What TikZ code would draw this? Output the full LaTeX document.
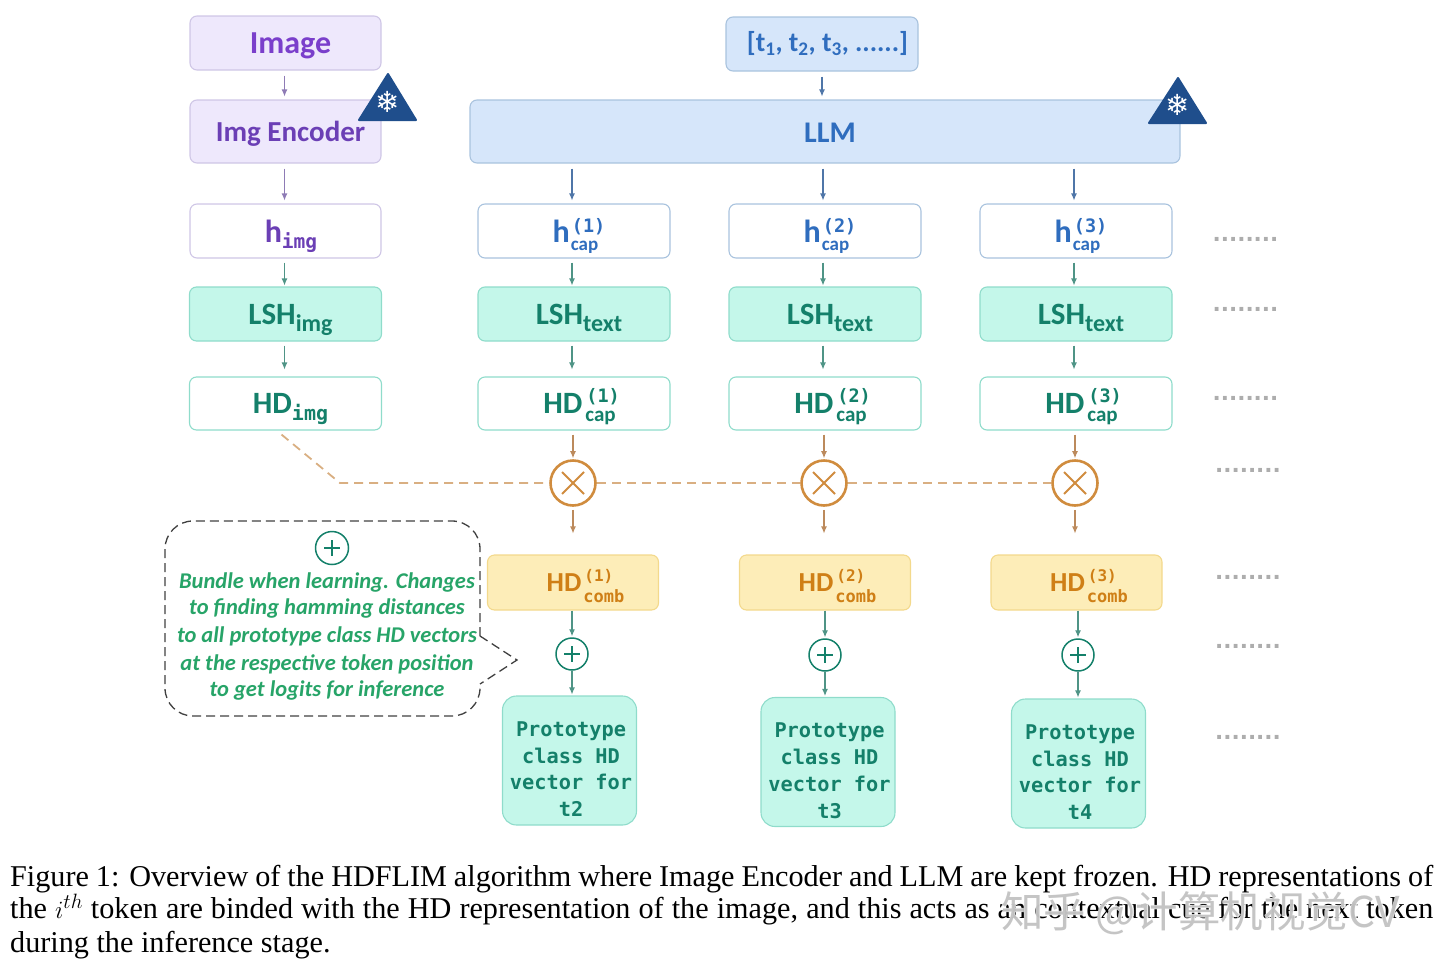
\documentclass[tikz,border=0pt]{standalone}
\usepackage{fontspec}
\setmainfont{Liberation Serif}
\newfontfamily\carl{Carlito}
\newfontfamily\mon{DejaVu Sans Mono}
\newfontfamily\djv{DejaVu Sans}
\newfontfamily\cjk{Noto Sans CJK SC}
\newfontfamily\cjkhalo[FakeBold=3]{Noto Sans CJK SC}
\usetikzlibrary{arrows.meta,calc}
\newcommand{\fz}[1]{\fontsize{#1}{#1}\selectfont}
% sup / sub stack: sup raised, sub lowered, neither changes the line box
\newcommand{\ssb}[4]{\rlap{\raisebox{#3}[0pt][0pt]{\hspace{1pt}#1}}\raisebox{#4}[0pt][0pt]{#2}}
\newcommand{\low}[2]{\raisebox{#1}[0pt][0pt]{#2}}
\newcommand{\nodepth}[1]{\raisebox{0pt}[\height][0pt]{#1}}
\definecolor{purp}{HTML}{7A3FCB}
\definecolor{purpd}{HTML}{6B3FB5}
\definecolor{purpfill}{HTML}{EEE8FC}
\definecolor{purpline}{HTML}{CFC6E6}
\definecolor{purparr}{HTML}{8E7BB5}
\definecolor{blu}{HTML}{2F6DBE}
\definecolor{bluarr}{HTML}{4F76A8}
\definecolor{blufill}{HTML}{D6E6FA}
\definecolor{bluline}{HTML}{A9C3DE}
\definecolor{teal1}{HTML}{14806A}
\definecolor{tealarr}{HTML}{4F9486}
\definecolor{tealfill}{HTML}{C4F7EA}
\definecolor{tealline}{HTML}{8FDCCB}
\definecolor{orng}{HTML}{D08C3E}
\definecolor{orngarr}{HTML}{BC8A5C}
\definecolor{orngdash}{HTML}{D9AF82}
\definecolor{orngd}{HTML}{CF7F16}
\definecolor{yelfill}{HTML}{FDEDB8}
\definecolor{yelline}{HTML}{F3D98C}
\definecolor{grn}{HTML}{27A468}
\definecolor{navy}{HTML}{1F4E8C}
\tikzset{
  x=1pt,y=-1pt,
  boxb/.style={draw,rounded corners=7pt,line width=1.1pt,inner sep=0pt,align=center},
  purpbox/.style={boxb,draw=purpline,fill=purpfill,text=purp,font=\carl\bfseries\fz{32}},
  purpwhite/.style={boxb,draw=purpline,fill=white,text=purpd,minimum width=191pt,minimum height=54pt},
  blubox/.style={boxb,draw=bluline,fill=blufill,text=blu,font=\carl\bfseries\fz{30}},
  bluwhite/.style={boxb,draw=bluline,fill=white,text=blu,minimum width=192pt,minimum height=54pt},
  lshbox/.style={boxb,draw=tealline,fill=tealfill,text=teal1,minimum width=192pt,minimum height=54pt},
  hdbox/.style={boxb,draw=tealline,fill=white,text=teal1,minimum width=192pt,minimum height=53pt},
  combbox/.style={boxb,draw=yelline,fill=yelfill,text=orngd,minimum width=171pt,minimum height=55pt},
  protobox/.style={boxb,rounded corners=14pt,draw=tealline,fill=tealfill,text=teal1,minimum width=134pt,minimum height=129pt,font=\mon\bfseries\fz{20.3},align=center},
  xcirc/.style={circle,draw=orng,line width=2.6pt,fill=white,minimum size=45pt,inner sep=0pt},
  pcirc/.style={circle,draw=teal1,line width=1.5pt,fill=white,minimum size=32pt,inner sep=0pt},
  arr/.style={-{Latex[length=7pt,width=6pt]},line width=1.1pt,shorten <=5pt,shorten >=3pt},
  dotrow/.style={draw=none,inner sep=0pt,anchor=base,text=black!32,font=\djv\bfseries\fz{21.6}},
  frozen/.style={draw=navy,fill=navy,line width=2pt,line join=round},
  dashor/.style={draw=orngdash,dash pattern=on 9pt off 6pt,line width=1.8pt},
  dashk/.style={draw=black!75,line width=1.3pt,dash pattern=on 9pt off 5pt},
}
\begin{document}
\begin{tikzpicture}
\useasboundingbox (0,0) rectangle (1440,969);
% left column
\node[purpbox,minimum width=191pt,minimum height=54pt] (image) at (285.5,43) {\hspace*{10pt}\nodepth{Image}};
\node[purpbox,minimum width=191pt,minimum height=63pt,font=\carl\bfseries\fz{29},text=purpd] (enc) at (285.5,131.5) {\hspace*{10pt}\nodepth{Img Encoder}};
\node[purpwhite,font=\carl\bfseries\fz{32}] (himg) at (285.5,231) {\hspace*{11pt}h\low{-6pt}{\mon\bfseries\fz{19.5}img}};
\node[lshbox,font=\carl\bfseries\fz{31}] (lshimg) at (285.5,314) {\hspace*{10pt}LSH\low{-7pt}{\carl\bfseries\fz{24}img}};
\node[hdbox,font=\carl\bfseries\fz{31}] (hdimg) at (285.5,403.5) {\hspace*{10pt}HD\low{-7pt}{\mon\bfseries\fz{20}img}};
% top
\node[blubox,minimum width=192pt,minimum height=54pt,font=\carl\bfseries\fz{27.5}] (tok) at (822,44) {\hspace*{11pt}[t\textsubscript{1}, t\textsubscript{2}, t\textsubscript{3}, ......]};
\node[blubox,minimum width=710pt,minimum height=63pt] (llm) at (825,131.5) {\hspace*{10pt}\raisebox{-1.5pt}[\height][\depth]{LLM}};
% frozen marks
\draw[frozen] (388,74) -- (416,120) -- (359,120) -- cycle;
\node[text=white,font=\djv\fz{29},inner sep=0pt] (snowa) at (387.5,102) {❄};
\draw[frozen] (1178,78) -- (1206,123) -- (1149,123) -- cycle;
\node[text=white,font=\djv\fz{29},inner sep=0pt] (snowb) at (1177.5,105) {❄};
% three token columns
\foreach \n/\cx/\ccx/\cbx/\pcx/\ppx/\py/\pcy/\tk in {1/574/573/573/572/569.5/760.5/654/t2,2/825/824/825/825/828/762/655/t3,3/1076/1075/1076.5/1078/1078.5/763.5/655/t4}{
  \node[bluwhite,font=\carl\bfseries\fz{32}] (h\n) at (\cx,231) {\hspace*{3pt}h\hspace{1pt}\ssb{\mon\bfseries\fz{18.5}(\n)}{\carl\bfseries\fz{19}cap}{10pt}{-8pt}};
  \node[lshbox,font=\carl\bfseries\fz{31}] (lsh\n) at (\cx,314) {\hspace*{10pt}LSH\low{-7pt}{\carl\bfseries\fz{24}text}};
  \node[hdbox,font=\carl\bfseries\fz{31}] (hd\n) at (\cx,403.5) {\hspace*{11pt}HD\hspace{3pt}\ssb{\mon\bfseries\fz{18.5}(\n)}{\carl\bfseries\fz{21}cap}{11pt}{-8pt}};
  \node[xcirc] (x\n) at (\ccx,483) {};
  \draw[orng,line width=2pt] ($(x\n)+(-11,-11)$) -- ($(x\n)+(11,11)$) ($(x\n)+(-11,11)$) -- ($(x\n)+(11,-11)$);
  \node[combbox,font=\carl\bfseries\fz{27.5}] (c\n) at (\cbx,582.5) {\hspace*{25pt}HD\hspace{2pt}\ssb{\mon\bfseries\fz{16}(\n)}{\mon\bfseries\fz{17}comb}{10pt}{-11pt}};
  \node[pcirc] (p\n) at (\pcx,\pcy) {};
  \draw[teal1,line width=1.3pt] ($(p\n)+(-8,0)$) -- ($(p\n)+(8,0)$) ($(p\n)+(0,-8)$) -- ($(p\n)+(0,8)$);
  \node[protobox] (pr\n) at (\ppx,\py) {\hspace*{3pt}\rule{0pt}{32pt}Prototype\\[6.5pt]\hspace*{3pt}class HD\\[6.5pt]\hspace*{3pt}vector for\\[6.5pt]\hspace*{3pt}\tk};
  \draw[arr,tealarr,shorten <=4pt,shorten >=1pt] ([xshift=-2pt]h\n.south) -- ([xshift=-2pt]lsh\n.north);
  \draw[arr,tealarr,shorten <=4pt,shorten >=7pt] ([xshift=-2pt]lsh\n.south) -- ([xshift=-2pt]hd\n.north);
  \draw[arr,orngarr,shorten <=4pt,shorten >=1pt] ([xshift=-1pt]hd\n.south) -- (x\n.north);
  \draw[arr,orngarr,shorten <=3pt,shorten >=21pt] (x\n.south) -- (x\n.south |- c\n.north);
  \draw[arr,tealarr,shorten <=0pt,shorten >=1pt] (c\n.south -| p\n) -- (p\n.north);
  \draw[arr,tealarr,shorten <=0pt,shorten >=1pt] (p\n.south) -- (p\n.south |- pr\n.north);
  \draw[arr,bluarr] ($(llm.south -| h\n)+(-2,0)$) -- ([xshift=-2pt]h\n.north);
}
% top arrows
\draw[arr,purparr] ([xshift=-1pt]image.south) -- ([xshift=-1pt]enc.north);
\draw[arr,purparr] ([xshift=-1pt]enc.south) -- ([xshift=-1pt]himg.north);
\draw[arr,tealarr,shorten <=4pt,shorten >=1pt] ([xshift=-1pt]himg.south) -- ([xshift=-1pt]lshimg.north);
\draw[arr,tealarr,shorten <=4pt,shorten >=7pt] ([xshift=-1pt]lshimg.south) -- ([xshift=-1pt]hdimg.north);
\draw[arr,bluarr] (tok.south) -- (tok.south |- llm.north);
% dashed bind line
\coordinate (bend) at (340,483);
\draw[dashor] ([xshift=-4pt,yshift=-4pt]hdimg.south) -- (bend) -- (x1.west);
\draw[dashor] (x1.east) -- (x2.west);
\draw[dashor] (x2.east) -- (x3.west);
% callout
\draw[dashk] (480,636) -- (517,660) -- (480,684);
\draw[dashk,rounded corners=28pt] (480,636) -- (480,521) -- (165,521) -- (165,716) -- (480,716) -- (480,684);
\node[pcirc,minimum size=33pt] (pc) at (332,548) {};
\draw[teal1,line width=1.3pt] ($(pc)+(-8,0)$) -- ($(pc)+(8,0)$) ($(pc)+(0,-8)$) -- ($(pc)+(0,8)$);
\foreach \t/\y in {Bundle when learning. Changes/582,to finding hamming distances/608,to all prototype class HD vectors/636,at the respective token position/664,to get logits for inference/690}{
  \node[text=grn,font=\carl\bfseries\itshape\fz{22.5},inner sep=0pt] at (327,\y) {\t};
}
% continuation dots
\foreach \y/\xa in {239/1245.5,309/1245.5,398/1245.5,470/1248,577/1248,646/1248,737/1248}{
  \node[dotrow] at (\xa,\y+2.5) {........};
}
% caption
\node[anchor=base west,inner sep=0pt,font=\fz{30.2}] (cap1) at (10,886) {\makebox[1423pt][s]{Figure 1: Overview of the HDFLIM algorithm where Image Encoder and LLM are kept frozen. HD representations of}};
\node[anchor=base west,inner sep=0pt,font=\fz{30.2}] (cap2) at (10,918) {\makebox[1423pt][s]{the $i^{th}$ token are binded with the HD representation of the image, and this acts as an contextual cue for the next token}};
\node[anchor=base west,inner sep=0pt,font=\fz{30.2}] (cap3) at (10,952) {during the inference stage.};
% watermark: white halo under grey glyphs, knocking out the caption below it
\node[anchor=base west,inner sep=0pt,text=white,opacity=.7,font=\cjkhalo\fz{42.5}] (markhalo) at (1001,927) {知乎 @计算机视觉CV};
\node[anchor=base west,inner sep=0pt,text=black!25,opacity=.9,font=\cjk\fz{42.5}] (mark) at (1001,927) {知乎 @计算机视觉CV};
\end{tikzpicture}
\end{document}
